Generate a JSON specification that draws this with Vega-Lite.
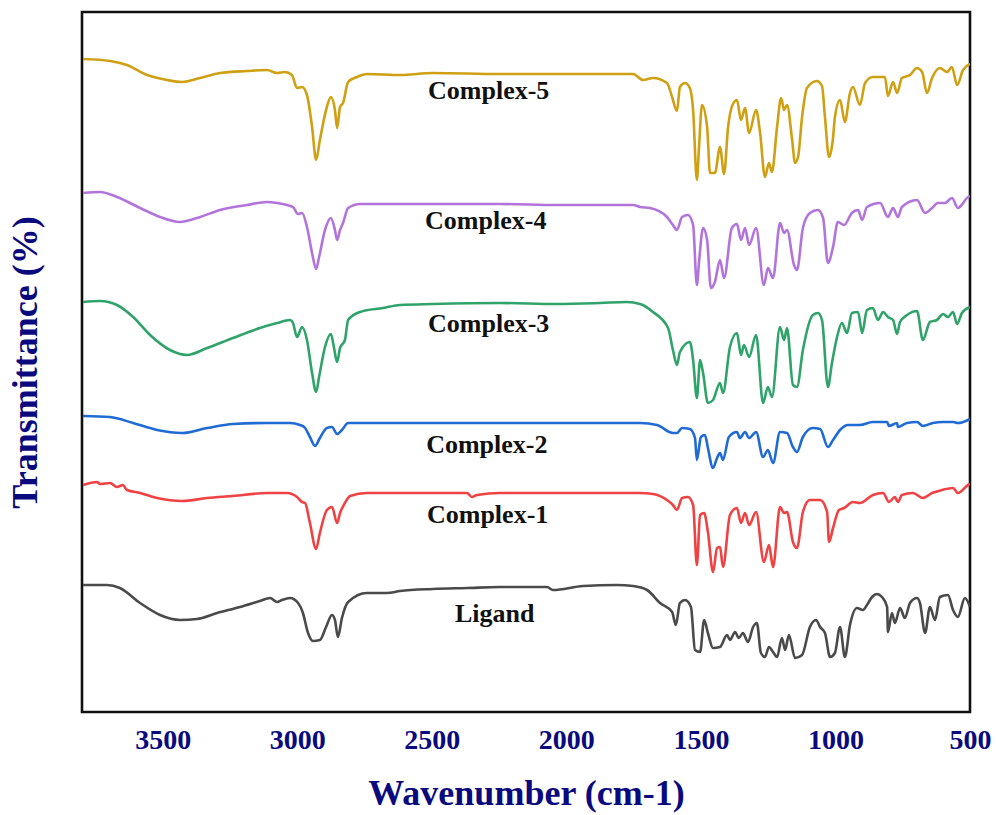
{
"$schema":"https://vega.github.io/schema/vega-lite/v6.json",
"width":888,"height":700,
"autosize":{"type":"none"},
"padding":{"left":82,"top":12,"right":27,"bottom":103},
"background":"white",
"config":{"view":{"stroke":"#111111","strokeWidth":2.6}},
"layer":[
{"data":{"values":[
{"s":"Complex-5","w":3796,"t":653},{"s":"Complex-5","w":3696,"t":651},{"s":"Complex-5","w":3633,"t":647},{"s":"Complex-5","w":3558,"t":637},{"s":"Complex-5","w":3484,"t":632},{"s":"Complex-5","w":3428,"t":630},{"s":"Complex-5","w":3361,"t":634},{"s":"Complex-5","w":3287,"t":639},{"s":"Complex-5","w":3187,"t":641},{"s":"Complex-5","w":3113,"t":642},{"s":"Complex-5","w":3075,"t":639},{"s":"Complex-5","w":3046,"t":640},{"s":"Complex-5","w":3020,"t":637},{"s":"Complex-5","w":3001,"t":624},{"s":"Complex-5","w":2982,"t":625},{"s":"Complex-5","w":2964,"t":617},{"s":"Complex-5","w":2945,"t":585},{"s":"Complex-5","w":2930,"t":552},{"s":"Complex-5","w":2916,"t":572},{"s":"Complex-5","w":2890,"t":605},{"s":"Complex-5","w":2875,"t":615},{"s":"Complex-5","w":2860,"t":602},{"s":"Complex-5","w":2852,"t":584},{"s":"Complex-5","w":2841,"t":605},{"s":"Complex-5","w":2830,"t":609},{"s":"Complex-5","w":2811,"t":630},{"s":"Complex-5","w":2778,"t":635},{"s":"Complex-5","w":2741,"t":638},{"s":"Complex-5","w":2618,"t":637},{"s":"Complex-5","w":2496,"t":639},{"s":"Complex-5","w":2247,"t":638},{"s":"Complex-5","w":2035,"t":638},{"s":"Complex-5","w":1752,"t":638},{"s":"Complex-5","w":1715,"t":632},{"s":"Complex-5","w":1678,"t":634},{"s":"Complex-5","w":1626,"t":629},{"s":"Complex-5","w":1607,"t":615},{"s":"Complex-5","w":1589,"t":601},{"s":"Complex-5","w":1578,"t":625},{"s":"Complex-5","w":1559,"t":629},{"s":"Complex-5","w":1541,"t":624},{"s":"Complex-5","w":1529,"t":602},{"s":"Complex-5","w":1515,"t":532},{"s":"Complex-5","w":1507,"t":565},{"s":"Complex-5","w":1496,"t":607},{"s":"Complex-5","w":1477,"t":585},{"s":"Complex-5","w":1466,"t":539},{"s":"Complex-5","w":1448,"t":539},{"s":"Complex-5","w":1429,"t":565},{"s":"Complex-5","w":1414,"t":538},{"s":"Complex-5","w":1399,"t":585},{"s":"Complex-5","w":1381,"t":608},{"s":"Complex-5","w":1366,"t":612},{"s":"Complex-5","w":1351,"t":592},{"s":"Complex-5","w":1336,"t":604},{"s":"Complex-5","w":1321,"t":579},{"s":"Complex-5","w":1295,"t":602},{"s":"Complex-5","w":1280,"t":579},{"s":"Complex-5","w":1262,"t":535},{"s":"Complex-5","w":1247,"t":549},{"s":"Complex-5","w":1236,"t":540},{"s":"Complex-5","w":1217,"t":585},{"s":"Complex-5","w":1202,"t":614},{"s":"Complex-5","w":1191,"t":602},{"s":"Complex-5","w":1180,"t":607},{"s":"Complex-5","w":1161,"t":572},{"s":"Complex-5","w":1150,"t":549},{"s":"Complex-5","w":1139,"t":555},{"s":"Complex-5","w":1124,"t":595},{"s":"Complex-5","w":1106,"t":624},{"s":"Complex-5","w":1069,"t":631},{"s":"Complex-5","w":1050,"t":626},{"s":"Complex-5","w":1039,"t":595},{"s":"Complex-5","w":1024,"t":555},{"s":"Complex-5","w":1009,"t":574},{"s":"Complex-5","w":1002,"t":595},{"s":"Complex-5","w":983,"t":612},{"s":"Complex-5","w":965,"t":590},{"s":"Complex-5","w":946,"t":619},{"s":"Complex-5","w":935,"t":625},{"s":"Complex-5","w":909,"t":607},{"s":"Complex-5","w":890,"t":629},{"s":"Complex-5","w":861,"t":635},{"s":"Complex-5","w":834,"t":635},{"s":"Complex-5","w":816,"t":635},{"s":"Complex-5","w":805,"t":616},{"s":"Complex-5","w":786,"t":630},{"s":"Complex-5","w":771,"t":619},{"s":"Complex-5","w":753,"t":634},{"s":"Complex-5","w":723,"t":637},{"s":"Complex-5","w":697,"t":644},{"s":"Complex-5","w":678,"t":640},{"s":"Complex-5","w":660,"t":619},{"s":"Complex-5","w":641,"t":634},{"s":"Complex-5","w":612,"t":644},{"s":"Complex-5","w":585,"t":640},{"s":"Complex-5","w":567,"t":645},{"s":"Complex-5","w":548,"t":627},{"s":"Complex-5","w":526,"t":642},{"s":"Complex-5","w":500,"t":648},

{"s":"Complex-4","w":3796,"t":519},{"s":"Complex-4","w":3733,"t":520},{"s":"Complex-4","w":3670,"t":515},{"s":"Complex-4","w":3584,"t":504},{"s":"Complex-4","w":3510,"t":495},{"s":"Complex-4","w":3436,"t":490},{"s":"Complex-4","w":3361,"t":495},{"s":"Complex-4","w":3287,"t":502},{"s":"Complex-4","w":3187,"t":507},{"s":"Complex-4","w":3113,"t":510},{"s":"Complex-4","w":3075,"t":509},{"s":"Complex-4","w":3038,"t":507},{"s":"Complex-4","w":3016,"t":505},{"s":"Complex-4","w":2997,"t":498},{"s":"Complex-4","w":2982,"t":499},{"s":"Complex-4","w":2964,"t":485},{"s":"Complex-4","w":2945,"t":459},{"s":"Complex-4","w":2930,"t":443},{"s":"Complex-4","w":2919,"t":455},{"s":"Complex-4","w":2897,"t":482},{"s":"Complex-4","w":2875,"t":494},{"s":"Complex-4","w":2860,"t":482},{"s":"Complex-4","w":2852,"t":472},{"s":"Complex-4","w":2841,"t":482},{"s":"Complex-4","w":2830,"t":489},{"s":"Complex-4","w":2811,"t":504},{"s":"Complex-4","w":2767,"t":508},{"s":"Complex-4","w":2681,"t":508},{"s":"Complex-4","w":2496,"t":508},{"s":"Complex-4","w":2247,"t":508},{"s":"Complex-4","w":2035,"t":507},{"s":"Complex-4","w":1752,"t":507},{"s":"Complex-4","w":1726,"t":505},{"s":"Complex-4","w":1689,"t":504},{"s":"Complex-4","w":1626,"t":495},{"s":"Complex-4","w":1604,"t":487},{"s":"Complex-4","w":1589,"t":482},{"s":"Complex-4","w":1570,"t":495},{"s":"Complex-4","w":1548,"t":497},{"s":"Complex-4","w":1529,"t":487},{"s":"Complex-4","w":1515,"t":427},{"s":"Complex-4","w":1507,"t":450},{"s":"Complex-4","w":1492,"t":484},{"s":"Complex-4","w":1477,"t":472},{"s":"Complex-4","w":1463,"t":424},{"s":"Complex-4","w":1448,"t":430},{"s":"Complex-4","w":1429,"t":452},{"s":"Complex-4","w":1414,"t":434},{"s":"Complex-4","w":1385,"t":484},{"s":"Complex-4","w":1366,"t":488},{"s":"Complex-4","w":1351,"t":472},{"s":"Complex-4","w":1336,"t":484},{"s":"Complex-4","w":1321,"t":467},{"s":"Complex-4","w":1295,"t":484},{"s":"Complex-4","w":1266,"t":427},{"s":"Complex-4","w":1251,"t":444},{"s":"Complex-4","w":1232,"t":434},{"s":"Complex-4","w":1206,"t":489},{"s":"Complex-4","w":1191,"t":479},{"s":"Complex-4","w":1180,"t":482},{"s":"Complex-4","w":1154,"t":447},{"s":"Complex-4","w":1143,"t":442},{"s":"Complex-4","w":1121,"t":484},{"s":"Complex-4","w":1095,"t":499},{"s":"Complex-4","w":1065,"t":502},{"s":"Complex-4","w":1046,"t":494},{"s":"Complex-4","w":1028,"t":449},{"s":"Complex-4","w":1009,"t":465},{"s":"Complex-4","w":991,"t":490},{"s":"Complex-4","w":968,"t":487},{"s":"Complex-4","w":939,"t":499},{"s":"Complex-4","w":916,"t":502},{"s":"Complex-4","w":901,"t":492},{"s":"Complex-4","w":883,"t":505},{"s":"Complex-4","w":834,"t":509},{"s":"Complex-4","w":805,"t":495},{"s":"Complex-4","w":786,"t":504},{"s":"Complex-4","w":768,"t":495},{"s":"Complex-4","w":753,"t":505},{"s":"Complex-4","w":697,"t":512},{"s":"Complex-4","w":667,"t":499},{"s":"Complex-4","w":641,"t":504},{"s":"Complex-4","w":619,"t":509},{"s":"Complex-4","w":593,"t":509},{"s":"Complex-4","w":567,"t":514},{"s":"Complex-4","w":545,"t":504},{"s":"Complex-4","w":507,"t":515},{"s":"Complex-4","w":500,"t":516},

{"s":"Complex-3","w":3796,"t":410},{"s":"Complex-3","w":3733,"t":411},{"s":"Complex-3","w":3670,"t":407},{"s":"Complex-3","w":3610,"t":395},{"s":"Complex-3","w":3547,"t":377},{"s":"Complex-3","w":3473,"t":362},{"s":"Complex-3","w":3410,"t":357},{"s":"Complex-3","w":3335,"t":364},{"s":"Complex-3","w":3239,"t":374},{"s":"Complex-3","w":3139,"t":384},{"s":"Complex-3","w":3075,"t":389},{"s":"Complex-3","w":3027,"t":392},{"s":"Complex-3","w":3016,"t":389},{"s":"Complex-3","w":3001,"t":375},{"s":"Complex-3","w":2982,"t":385},{"s":"Complex-3","w":2964,"t":372},{"s":"Complex-3","w":2945,"t":339},{"s":"Complex-3","w":2930,"t":320},{"s":"Complex-3","w":2919,"t":335},{"s":"Complex-3","w":2897,"t":365},{"s":"Complex-3","w":2875,"t":378},{"s":"Complex-3","w":2864,"t":365},{"s":"Complex-3","w":2852,"t":350},{"s":"Complex-3","w":2841,"t":364},{"s":"Complex-3","w":2823,"t":372},{"s":"Complex-3","w":2811,"t":392},{"s":"Complex-3","w":2767,"t":400},{"s":"Complex-3","w":2681,"t":404},{"s":"Complex-3","w":2618,"t":407},{"s":"Complex-3","w":2496,"t":408},{"s":"Complex-3","w":2247,"t":409},{"s":"Complex-3","w":2035,"t":408},{"s":"Complex-3","w":1875,"t":409},{"s":"Complex-3","w":1775,"t":410},{"s":"Complex-3","w":1726,"t":408},{"s":"Complex-3","w":1678,"t":400},{"s":"Complex-3","w":1622,"t":384},{"s":"Complex-3","w":1604,"t":362},{"s":"Complex-3","w":1589,"t":347},{"s":"Complex-3","w":1578,"t":360},{"s":"Complex-3","w":1541,"t":370},{"s":"Complex-3","w":1529,"t":352},{"s":"Complex-3","w":1515,"t":314},{"s":"Complex-3","w":1503,"t":352},{"s":"Complex-3","w":1492,"t":339},{"s":"Complex-3","w":1474,"t":309},{"s":"Complex-3","w":1455,"t":312},{"s":"Complex-3","w":1429,"t":329},{"s":"Complex-3","w":1418,"t":319},{"s":"Complex-3","w":1392,"t":365},{"s":"Complex-3","w":1366,"t":379},{"s":"Complex-3","w":1351,"t":357},{"s":"Complex-3","w":1340,"t":367},{"s":"Complex-3","w":1321,"t":355},{"s":"Complex-3","w":1295,"t":377},{"s":"Complex-3","w":1269,"t":309},{"s":"Complex-3","w":1251,"t":325},{"s":"Complex-3","w":1236,"t":315},{"s":"Complex-3","w":1206,"t":385},{"s":"Complex-3","w":1191,"t":372},{"s":"Complex-3","w":1180,"t":384},{"s":"Complex-3","w":1158,"t":327},{"s":"Complex-3","w":1143,"t":325},{"s":"Complex-3","w":1121,"t":362},{"s":"Complex-3","w":1084,"t":397},{"s":"Complex-3","w":1065,"t":399},{"s":"Complex-3","w":1050,"t":392},{"s":"Complex-3","w":1028,"t":325},{"s":"Complex-3","w":1013,"t":349},{"s":"Complex-3","w":994,"t":375},{"s":"Complex-3","w":976,"t":389},{"s":"Complex-3","w":957,"t":379},{"s":"Complex-3","w":939,"t":399},{"s":"Complex-3","w":916,"t":400},{"s":"Complex-3","w":901,"t":379},{"s":"Complex-3","w":883,"t":402},{"s":"Complex-3","w":861,"t":404},{"s":"Complex-3","w":842,"t":392},{"s":"Complex-3","w":823,"t":400},{"s":"Complex-3","w":805,"t":395},{"s":"Complex-3","w":786,"t":392},{"s":"Complex-3","w":771,"t":378},{"s":"Complex-3","w":760,"t":390},{"s":"Complex-3","w":734,"t":397},{"s":"Complex-3","w":697,"t":401},{"s":"Complex-3","w":675,"t":372},{"s":"Complex-3","w":649,"t":390},{"s":"Complex-3","w":623,"t":392},{"s":"Complex-3","w":600,"t":398},{"s":"Complex-3","w":582,"t":395},{"s":"Complex-3","w":563,"t":400},{"s":"Complex-3","w":548,"t":388},{"s":"Complex-3","w":530,"t":399},{"s":"Complex-3","w":500,"t":405},

{"s":"Complex-2","w":3796,"t":296},{"s":"Complex-2","w":3696,"t":295},{"s":"Complex-2","w":3610,"t":289},{"s":"Complex-2","w":3521,"t":282},{"s":"Complex-2","w":3428,"t":279},{"s":"Complex-2","w":3335,"t":284},{"s":"Complex-2","w":3239,"t":288},{"s":"Complex-2","w":3113,"t":289},{"s":"Complex-2","w":3027,"t":289},{"s":"Complex-2","w":2990,"t":287},{"s":"Complex-2","w":2971,"t":284},{"s":"Complex-2","w":2953,"t":275},{"s":"Complex-2","w":2934,"t":266},{"s":"Complex-2","w":2916,"t":274},{"s":"Complex-2","w":2890,"t":284},{"s":"Complex-2","w":2871,"t":285},{"s":"Complex-2","w":2852,"t":278},{"s":"Complex-2","w":2834,"t":282},{"s":"Complex-2","w":2811,"t":289},{"s":"Complex-2","w":2741,"t":289},{"s":"Complex-2","w":2496,"t":289},{"s":"Complex-2","w":2247,"t":289},{"s":"Complex-2","w":1875,"t":289},{"s":"Complex-2","w":1726,"t":289},{"s":"Complex-2","w":1663,"t":287},{"s":"Complex-2","w":1604,"t":279},{"s":"Complex-2","w":1589,"t":279},{"s":"Complex-2","w":1570,"t":284},{"s":"Complex-2","w":1541,"t":283},{"s":"Complex-2","w":1522,"t":274},{"s":"Complex-2","w":1515,"t":252},{"s":"Complex-2","w":1500,"t":275},{"s":"Complex-2","w":1485,"t":277},{"s":"Complex-2","w":1474,"t":264},{"s":"Complex-2","w":1455,"t":244},{"s":"Complex-2","w":1440,"t":254},{"s":"Complex-2","w":1429,"t":259},{"s":"Complex-2","w":1418,"t":252},{"s":"Complex-2","w":1396,"t":275},{"s":"Complex-2","w":1366,"t":280},{"s":"Complex-2","w":1355,"t":274},{"s":"Complex-2","w":1336,"t":280},{"s":"Complex-2","w":1321,"t":274},{"s":"Complex-2","w":1295,"t":280},{"s":"Complex-2","w":1269,"t":255},{"s":"Complex-2","w":1251,"t":262},{"s":"Complex-2","w":1232,"t":249},{"s":"Complex-2","w":1206,"t":280},{"s":"Complex-2","w":1180,"t":279},{"s":"Complex-2","w":1158,"t":265},{"s":"Complex-2","w":1143,"t":260},{"s":"Complex-2","w":1121,"t":275},{"s":"Complex-2","w":1084,"t":284},{"s":"Complex-2","w":1057,"t":283},{"s":"Complex-2","w":1028,"t":265},{"s":"Complex-2","w":1009,"t":272},{"s":"Complex-2","w":983,"t":282},{"s":"Complex-2","w":953,"t":287},{"s":"Complex-2","w":909,"t":287},{"s":"Complex-2","w":861,"t":290},{"s":"Complex-2","w":808,"t":290},{"s":"Complex-2","w":801,"t":286},{"s":"Complex-2","w":771,"t":289},{"s":"Complex-2","w":768,"t":285},{"s":"Complex-2","w":734,"t":289},{"s":"Complex-2","w":697,"t":290},{"s":"Complex-2","w":675,"t":286},{"s":"Complex-2","w":638,"t":289},{"s":"Complex-2","w":600,"t":290},{"s":"Complex-2","w":563,"t":290},{"s":"Complex-2","w":545,"t":289},{"s":"Complex-2","w":507,"t":292},{"s":"Complex-2","w":500,"t":293},

{"s":"Complex-1","w":3796,"t":227},{"s":"Complex-1","w":3744,"t":230},{"s":"Complex-1","w":3733,"t":228},{"s":"Complex-1","w":3696,"t":229},{"s":"Complex-1","w":3670,"t":225},{"s":"Complex-1","w":3648,"t":227},{"s":"Complex-1","w":3633,"t":222},{"s":"Complex-1","w":3584,"t":219},{"s":"Complex-1","w":3521,"t":214},{"s":"Complex-1","w":3428,"t":211},{"s":"Complex-1","w":3335,"t":214},{"s":"Complex-1","w":3239,"t":216},{"s":"Complex-1","w":3113,"t":219},{"s":"Complex-1","w":3038,"t":219},{"s":"Complex-1","w":3001,"t":215},{"s":"Complex-1","w":2982,"t":210},{"s":"Complex-1","w":2971,"t":209},{"s":"Complex-1","w":2953,"t":189},{"s":"Complex-1","w":2930,"t":163},{"s":"Complex-1","w":2916,"t":179},{"s":"Complex-1","w":2890,"t":202},{"s":"Complex-1","w":2871,"t":205},{"s":"Complex-1","w":2852,"t":189},{"s":"Complex-1","w":2841,"t":199},{"s":"Complex-1","w":2823,"t":209},{"s":"Complex-1","w":2804,"t":216},{"s":"Complex-1","w":2741,"t":219},{"s":"Complex-1","w":2496,"t":219},{"s":"Complex-1","w":2369,"t":219},{"s":"Complex-1","w":2351,"t":215},{"s":"Complex-1","w":2332,"t":217},{"s":"Complex-1","w":2247,"t":219},{"s":"Complex-1","w":1875,"t":219},{"s":"Complex-1","w":1726,"t":219},{"s":"Complex-1","w":1678,"t":218},{"s":"Complex-1","w":1626,"t":212},{"s":"Complex-1","w":1604,"t":207},{"s":"Complex-1","w":1589,"t":202},{"s":"Complex-1","w":1570,"t":214},{"s":"Complex-1","w":1548,"t":215},{"s":"Complex-1","w":1529,"t":207},{"s":"Complex-1","w":1515,"t":147},{"s":"Complex-1","w":1503,"t":197},{"s":"Complex-1","w":1488,"t":199},{"s":"Complex-1","w":1474,"t":180},{"s":"Complex-1","w":1455,"t":140},{"s":"Complex-1","w":1440,"t":164},{"s":"Complex-1","w":1429,"t":165},{"s":"Complex-1","w":1418,"t":145},{"s":"Complex-1","w":1392,"t":197},{"s":"Complex-1","w":1366,"t":204},{"s":"Complex-1","w":1351,"t":189},{"s":"Complex-1","w":1336,"t":199},{"s":"Complex-1","w":1321,"t":187},{"s":"Complex-1","w":1295,"t":200},{"s":"Complex-1","w":1266,"t":150},{"s":"Complex-1","w":1247,"t":167},{"s":"Complex-1","w":1232,"t":145},{"s":"Complex-1","w":1206,"t":205},{"s":"Complex-1","w":1191,"t":199},{"s":"Complex-1","w":1180,"t":200},{"s":"Complex-1","w":1158,"t":170},{"s":"Complex-1","w":1143,"t":164},{"s":"Complex-1","w":1121,"t":200},{"s":"Complex-1","w":1095,"t":212},{"s":"Complex-1","w":1057,"t":212},{"s":"Complex-1","w":1031,"t":200},{"s":"Complex-1","w":1024,"t":170},{"s":"Complex-1","w":1009,"t":184},{"s":"Complex-1","w":987,"t":202},{"s":"Complex-1","w":968,"t":204},{"s":"Complex-1","w":935,"t":210},{"s":"Complex-1","w":909,"t":209},{"s":"Complex-1","w":861,"t":217},{"s":"Complex-1","w":823,"t":219},{"s":"Complex-1","w":801,"t":210},{"s":"Complex-1","w":779,"t":215},{"s":"Complex-1","w":768,"t":210},{"s":"Complex-1","w":753,"t":217},{"s":"Complex-1","w":712,"t":219},{"s":"Complex-1","w":675,"t":214},{"s":"Complex-1","w":641,"t":219},{"s":"Complex-1","w":604,"t":222},{"s":"Complex-1","w":563,"t":224},{"s":"Complex-1","w":545,"t":219},{"s":"Complex-1","w":507,"t":227},{"s":"Complex-1","w":500,"t":228},

{"s":"Ligand","w":3796,"t":127},{"s":"Ligand","w":3707,"t":127},{"s":"Ligand","w":3659,"t":124},{"s":"Ligand","w":3584,"t":109},{"s":"Ligand","w":3510,"t":97},{"s":"Ligand","w":3436,"t":92},{"s":"Ligand","w":3373,"t":93},{"s":"Ligand","w":3298,"t":99},{"s":"Ligand","w":3213,"t":105},{"s":"Ligand","w":3139,"t":111},{"s":"Ligand","w":3101,"t":114},{"s":"Ligand","w":3075,"t":110},{"s":"Ligand","w":3057,"t":112},{"s":"Ligand","w":3027,"t":114},{"s":"Ligand","w":2997,"t":109},{"s":"Ligand","w":2979,"t":99},{"s":"Ligand","w":2960,"t":79},{"s":"Ligand","w":2942,"t":71},{"s":"Ligand","w":2916,"t":72},{"s":"Ligand","w":2893,"t":85},{"s":"Ligand","w":2871,"t":97},{"s":"Ligand","w":2860,"t":92},{"s":"Ligand","w":2849,"t":75},{"s":"Ligand","w":2834,"t":94},{"s":"Ligand","w":2811,"t":110},{"s":"Ligand","w":2741,"t":119},{"s":"Ligand","w":2667,"t":119},{"s":"Ligand","w":2618,"t":121},{"s":"Ligand","w":2496,"t":123},{"s":"Ligand","w":2369,"t":124},{"s":"Ligand","w":2247,"t":125},{"s":"Ligand","w":2072,"t":125},{"s":"Ligand","w":2050,"t":122},{"s":"Ligand","w":1938,"t":126},{"s":"Ligand","w":1812,"t":127},{"s":"Ligand","w":1752,"t":126},{"s":"Ligand","w":1700,"t":122},{"s":"Ligand","w":1652,"t":109},{"s":"Ligand","w":1607,"t":100},{"s":"Ligand","w":1593,"t":87},{"s":"Ligand","w":1578,"t":109},{"s":"Ligand","w":1559,"t":112},{"s":"Ligand","w":1537,"t":105},{"s":"Ligand","w":1522,"t":62},{"s":"Ligand","w":1503,"t":60},{"s":"Ligand","w":1488,"t":92},{"s":"Ligand","w":1474,"t":79},{"s":"Ligand","w":1455,"t":64},{"s":"Ligand","w":1429,"t":65},{"s":"Ligand","w":1403,"t":77},{"s":"Ligand","w":1392,"t":72},{"s":"Ligand","w":1373,"t":80},{"s":"Ligand","w":1359,"t":74},{"s":"Ligand","w":1344,"t":79},{"s":"Ligand","w":1325,"t":70},{"s":"Ligand","w":1306,"t":85},{"s":"Ligand","w":1292,"t":89},{"s":"Ligand","w":1277,"t":59},{"s":"Ligand","w":1262,"t":55},{"s":"Ligand","w":1247,"t":65},{"s":"Ligand","w":1232,"t":60},{"s":"Ligand","w":1217,"t":55},{"s":"Ligand","w":1199,"t":74},{"s":"Ligand","w":1187,"t":62},{"s":"Ligand","w":1173,"t":77},{"s":"Ligand","w":1150,"t":54},{"s":"Ligand","w":1124,"t":57},{"s":"Ligand","w":1095,"t":85},{"s":"Ligand","w":1072,"t":92},{"s":"Ligand","w":1057,"t":85},{"s":"Ligand","w":1039,"t":79},{"s":"Ligand","w":1020,"t":55},{"s":"Ligand","w":1002,"t":59},{"s":"Ligand","w":983,"t":85},{"s":"Ligand","w":965,"t":55},{"s":"Ligand","w":946,"t":87},{"s":"Ligand","w":920,"t":104},{"s":"Ligand","w":898,"t":102},{"s":"Ligand","w":883,"t":107},{"s":"Ligand","w":864,"t":115},{"s":"Ligand","w":846,"t":118},{"s":"Ligand","w":827,"t":115},{"s":"Ligand","w":808,"t":105},{"s":"Ligand","w":805,"t":80},{"s":"Ligand","w":790,"t":99},{"s":"Ligand","w":779,"t":89},{"s":"Ligand","w":760,"t":104},{"s":"Ligand","w":742,"t":94},{"s":"Ligand","w":723,"t":109},{"s":"Ligand","w":697,"t":114},{"s":"Ligand","w":686,"t":109},{"s":"Ligand","w":667,"t":79},{"s":"Ligand","w":649,"t":105},{"s":"Ligand","w":630,"t":92},{"s":"Ligand","w":612,"t":115},{"s":"Ligand","w":582,"t":117},{"s":"Ligand","w":563,"t":102},{"s":"Ligand","w":545,"t":95},{"s":"Ligand","w":519,"t":114},{"s":"Ligand","w":500,"t":105}
]},
"mark":{"type":"line","strokeWidth":2.6,"clip":true,"strokeJoin":"round","interpolate":"monotone"},
"encoding":{
"x":{"field":"w","type":"quantitative","scale":{"domain":[3800,500],"nice":false,"zero":false},
"axis":{"values":[3500,3000,2500,2000,1500,1000,500],"format":"d","ticks":false,"domain":false,"grid":false,"labelFont":"Liberation Serif","labelFontWeight":"bold","labelFontSize":28,"labelColor":"#0a0a7e","labelPadding":14,"labelFlush":false,"labelOverlap":false,"title":"Wavenumber (cm-1)","titleFont":"Liberation Serif","titleFontWeight":"bold","titleFontSize":36,"titleColor":"#0a0a7e","titlePadding":22}},
"y":{"field":"t","type":"quantitative","scale":{"domain":[0,700],"nice":false,"zero":false},
"axis":{"labels":false,"ticks":false,"domain":false,"grid":false,"title":"Transmittance (%)","titleFont":"Liberation Serif","titleFontWeight":"bold","titleFontSize":36,"titleColor":"#0a0a7e","titlePadding":38}},
"color":{"field":"s","type":"nominal","scale":{"domain":["Complex-5","Complex-4","Complex-3","Complex-2","Complex-1","Ligand"],"range":["#CFA013","#B274DA","#2FA36A","#1F6BD3","#EF4242","#4A4A4A"]},"legend":null}
}},
{"data":{"values":[
{"label":"Complex-5","w":2514,"t":613},
{"label":"Complex-4","w":2525,"t":483},
{"label":"Complex-3","w":2514,"t":380},
{"label":"Complex-2","w":2521,"t":259},
{"label":"Complex-1","w":2518,"t":189},
{"label":"Ligand","w":2414,"t":90}
]},
"mark":{"type":"text","font":"Liberation Serif","fontWeight":"bold","fontSize":26,"align":"left","baseline":"alphabetic","color":"#111111"},
"encoding":{"x":{"field":"w","type":"quantitative"},"y":{"field":"t","type":"quantitative"},"text":{"field":"label","type":"nominal"}}}
]
}
